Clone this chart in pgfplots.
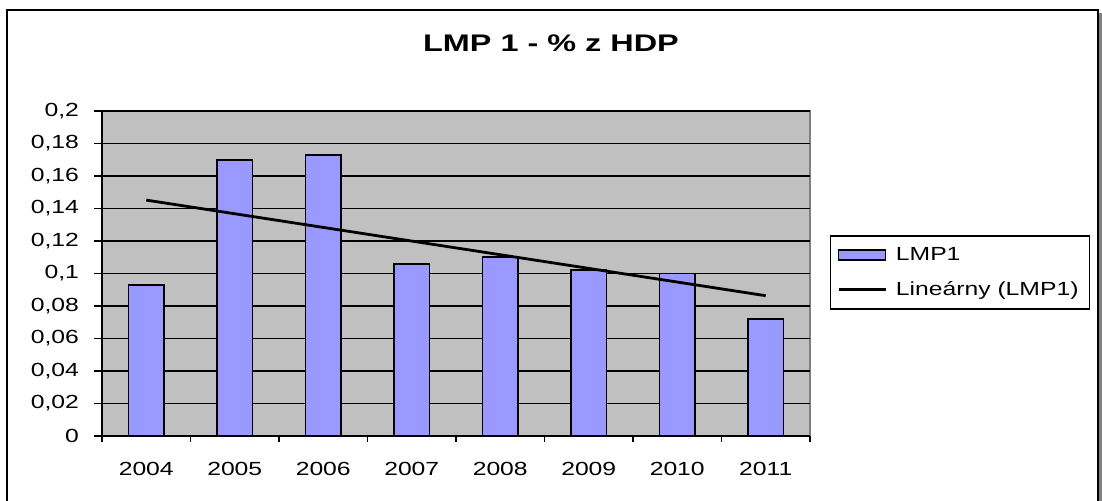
\documentclass[border=0pt]{standalone}
\usepackage{pgfplots}
\pgfplotsset{compat=1.18}
\usepackage{graphicx}
\usepackage{fontspec}
\setmainfont{Liberation Sans}
\newcommand{\sx}[1]{\scalebox{1.3}[1]{#1}}
\definecolor{barfill}{HTML}{9999FF}
\definecolor{plotbg}{HTML}{C0C0C0}
\begin{document}
\begin{tikzpicture}
\useasboundingbox (0pt,0pt) rectangle (551pt,-250.5pt);
\clip (0pt,0pt) rectangle (551pt,-250.5pt);
\draw[line width=1pt] (3.5pt,-260pt) -- (3.5pt,-5pt) -- (549.15pt,-5pt) -- (549.15pt,-260pt);
\draw[line width=1.3pt, gray] (550.35pt,-6.5pt) -- (550.35pt,-260pt);
\node[anchor=base, font=\fontsize{12}{14}\selectfont\bfseries, inner sep=0pt] at (275.5pt,-26pt) {\scalebox{1.35}[1]{LMP 1 - \% z HDP}};
\begin{axis}[
  at={(51pt,-218pt)}, anchor=south west,
  width=354pt, height=162.5pt, scale only axis,
  xmin=-0.5, xmax=7.5, ymin=0, ymax=0.2,
  axis background/.style={fill=plotbg, draw=gray, line width=0.8pt},
  axis x line*=bottom, axis y line*=left,
  axis line style={black, line width=0.8pt, -},
  xtick={0,1,2,3,4,5,6,7},
  xticklabels={\sx{2004},\sx{2005},\sx{2006},\sx{2007},\sx{2008},\sx{2009},\sx{2010},\sx{2011}},
  xticklabel style={yshift=-5.5pt},
  major x tick style={draw=none},
  minor xtick={-0.5,0.5,1.5,2.5,3.5,4.5,5.5,6.5,7.5},
  tick align=outside,
  minor tick length=3pt, major tick length=4pt,
  ytick={0,0.02,0.04,0.06,0.08,0.1,0.12,0.14,0.16,0.18,0.2},
  yticklabel={\sx{\pgfmathprintnumber{\tick}}},
  yticklabel style={xshift=-4pt},
  /pgf/number format/use comma,
  /pgf/number format/fixed,
  /pgf/number format/precision=2,
  /pgf/number format/assume math mode=true,
  ymajorgrids, grid style={black, line width=0.6pt},
  tick style={black, line width=0.6pt},
  tick label style={font=\fontsize{9.5}{11}\selectfont},
  legend style={at={(1.0282,0.503)}, anchor=west, draw=black, line width=0.6pt, fill=white,
    font=\fontsize{9.5}{11}\selectfont, inner xsep=3.5pt, inner ysep=3.5pt, row sep=5pt,
    /tikz/every odd column/.append style={column sep=2.5pt}},
  legend cell align=left,
]
\addplot[ybar, bar width=17.7pt, fill=barfill, draw=black, line width=0.8pt,
  legend image code/.code={\draw[fill=barfill, draw=black, line width=0.7pt] (0pt,-2.5pt) rectangle (23.5pt,2.5pt);}]
  coordinates {(0,0.093) (1,0.170) (2,0.173) (3,0.106) (4,0.110) (5,0.102) (6,0.100) (7,0.072)};
\addlegendentry{\sx{LMP1}}
\addplot[black, line width=1.4pt,
  legend image code/.code={\draw[black, line width=1.2pt] (0pt,0pt) -- (23.5pt,0pt);}]
  coordinates {(0,0.145167) (7,0.086333)};
\addlegendentry{\sx{Lineárny (LMP1)}}
\end{axis}
\end{tikzpicture}
\end{document}
